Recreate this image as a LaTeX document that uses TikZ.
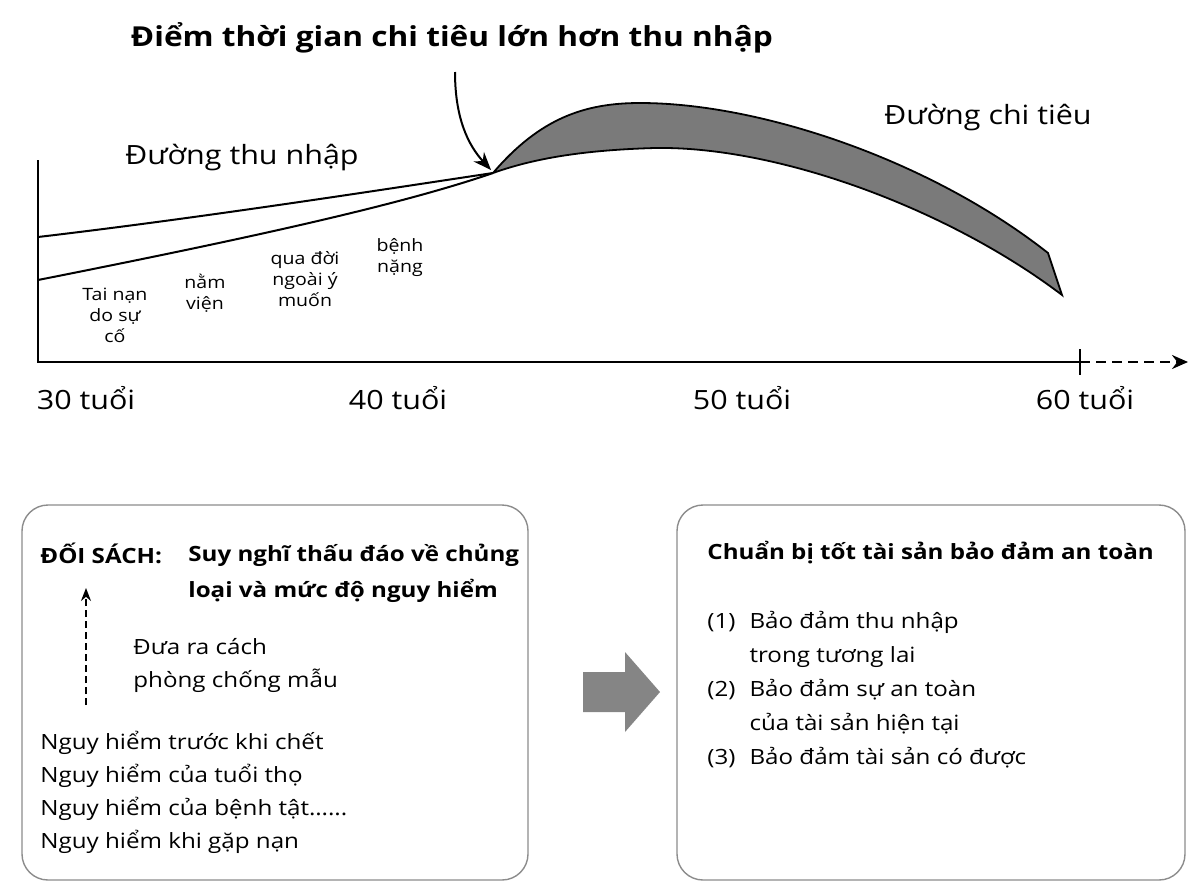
\documentclass[tikz,border=0pt]{standalone}
\usepackage{fontspec}
\setmainfont{Open Sans}[FakeStretch=1.15]
\usepackage{tikz}
\usetikzlibrary{arrows.meta}

\begin{document}
\begin{tikzpicture}[x=1pt, y=-1pt, thick,
    axis label/.style={font=\fontsize{26.5}{30}\selectfont},
    risk label/.style={align=center, inner sep=0pt, font=\fontsize{17}{21}\selectfont},
    box/.style={draw=black!45, line width=1.4pt, rounded corners=26pt},
    box text/.style={align=left, inner sep=0pt, anchor=west, font=\fontsize{21}{33}\selectfont},
    box title/.style={align=left, inner sep=0pt, anchor=west, font=\fontsize{21}{36}\selectfont\bfseries}]
    \useasboundingbox (0,0) rectangle (1190,884);

    % chart
    \node[font=\fontsize{27.5}{30}\selectfont\bfseries] (title) at (452,38) {Điểm thời gian chi tiêu lớn hơn thu nhập};
    \coordinate (cross) at (491,170);
    \draw[line width=2pt] (38,160) -- (38,362) -- (1080,362);
    \draw[line width=2.4pt] (1080,349) -- (1080,375);
    \draw[line width=2.4pt, dash pattern=on 10pt off 6pt, -{Stealth[length=16pt,width=14pt]}] (1080,362) -- (1188,362);

    \filldraw[fill=black!52, line width=1.8pt]
        (493,173) .. controls (540,118) and (585,103) .. (640,103)
        .. controls (760,103) and (930,160) .. (1048,253)
        -- (1062,295)
        .. controls (950,210) and (780,146) .. (655,148)
        .. controls (585,150) and (535,158) .. (493,173);
    \draw[line width=2pt] (38,237) .. controls (200,218) and (380,190) .. (493,173);
    \draw[line width=2pt] (38,280) .. controls (250,238) and (400,205) .. (493,173);
    \draw[line width=2pt, -{Stealth[length=18pt,width=14pt]}] (455,72) .. controls (455,118) and (468,145) .. (cross);

    \node[axis label] (income) at (242,158) {Đường thu nhập};
    \node[axis label] (spend) at (988,118) {Đường chi tiêu};
    \node[axis label] (a30) at (86,398) {30 tuổi};
    \node[axis label] (a40) at (398,398) {40 tuổi};
    \node[axis label] (a50) at (742,398) {50 tuổi};
    \node[axis label] (a60) at (1085,398) {60 tuổi};

    \node[risk label] (r1) at (115,315) {Tai nạn\\do sự\\cố};
    \node[risk label] (r2) at (205,293) {nằm\\viện};
    \node[risk label] (r3) at (305,279) {qua đời\\ngoài ý\\muốn};
    \node[risk label] (r4) at (400,258) {bệnh\\nặng};

    % boxes
    \draw[box] (22,505) rectangle (528,880);
    \draw[box] (677,505) rectangle (1185,880);
    \fill[black!48] (583,672) -- (625,672) -- (625,652) -- (660,692) -- (625,732) -- (625,712) -- (583,712) -- cycle;

    \node[box title] (plan) at (40,553) {ĐỐI SÁCH:};
    \node[box title] (plantext) at (188,573) {Suy nghĩ thấu đáo về chủng\\loại và mức độ nguy hiểm};
    \coordinate (up) at (86,588);
    \coordinate (down) at (86,705);
    \draw[line width=1.8pt, dash pattern=on 7pt off 4pt, -{Stealth[length=13pt,width=10pt]}] (down) -- (up);
    \node[box text] (way) at (133,665) {Đưa ra cách\\phòng chống mẫu};
    \node[box text] (risks) at (40,792) {Nguy hiểm trước khi chết\\Nguy hiểm của tuổi thọ\\Nguy hiểm của bệnh tật…...\\Nguy hiểm khi gặp nạn};

    \node[box title] (ready) at (707,553) {Chuẩn bị tốt tài sản bảo đảm an toàn};
    \node[box text] (list) at (707,690) {\renewcommand{\arraystretch}{1.03}%
        \begin{tabular}{@{}l@{\hspace{14pt}}l@{}}
        (1) & Bảo đảm thu nhập\\
            & trong tương lai\\
        (2) & Bảo đảm sự an toàn\\
            & của tài sản hiện tại\\
        (3) & Bảo đảm tài sản có được
        \end{tabular}};
\end{tikzpicture}
\end{document}
